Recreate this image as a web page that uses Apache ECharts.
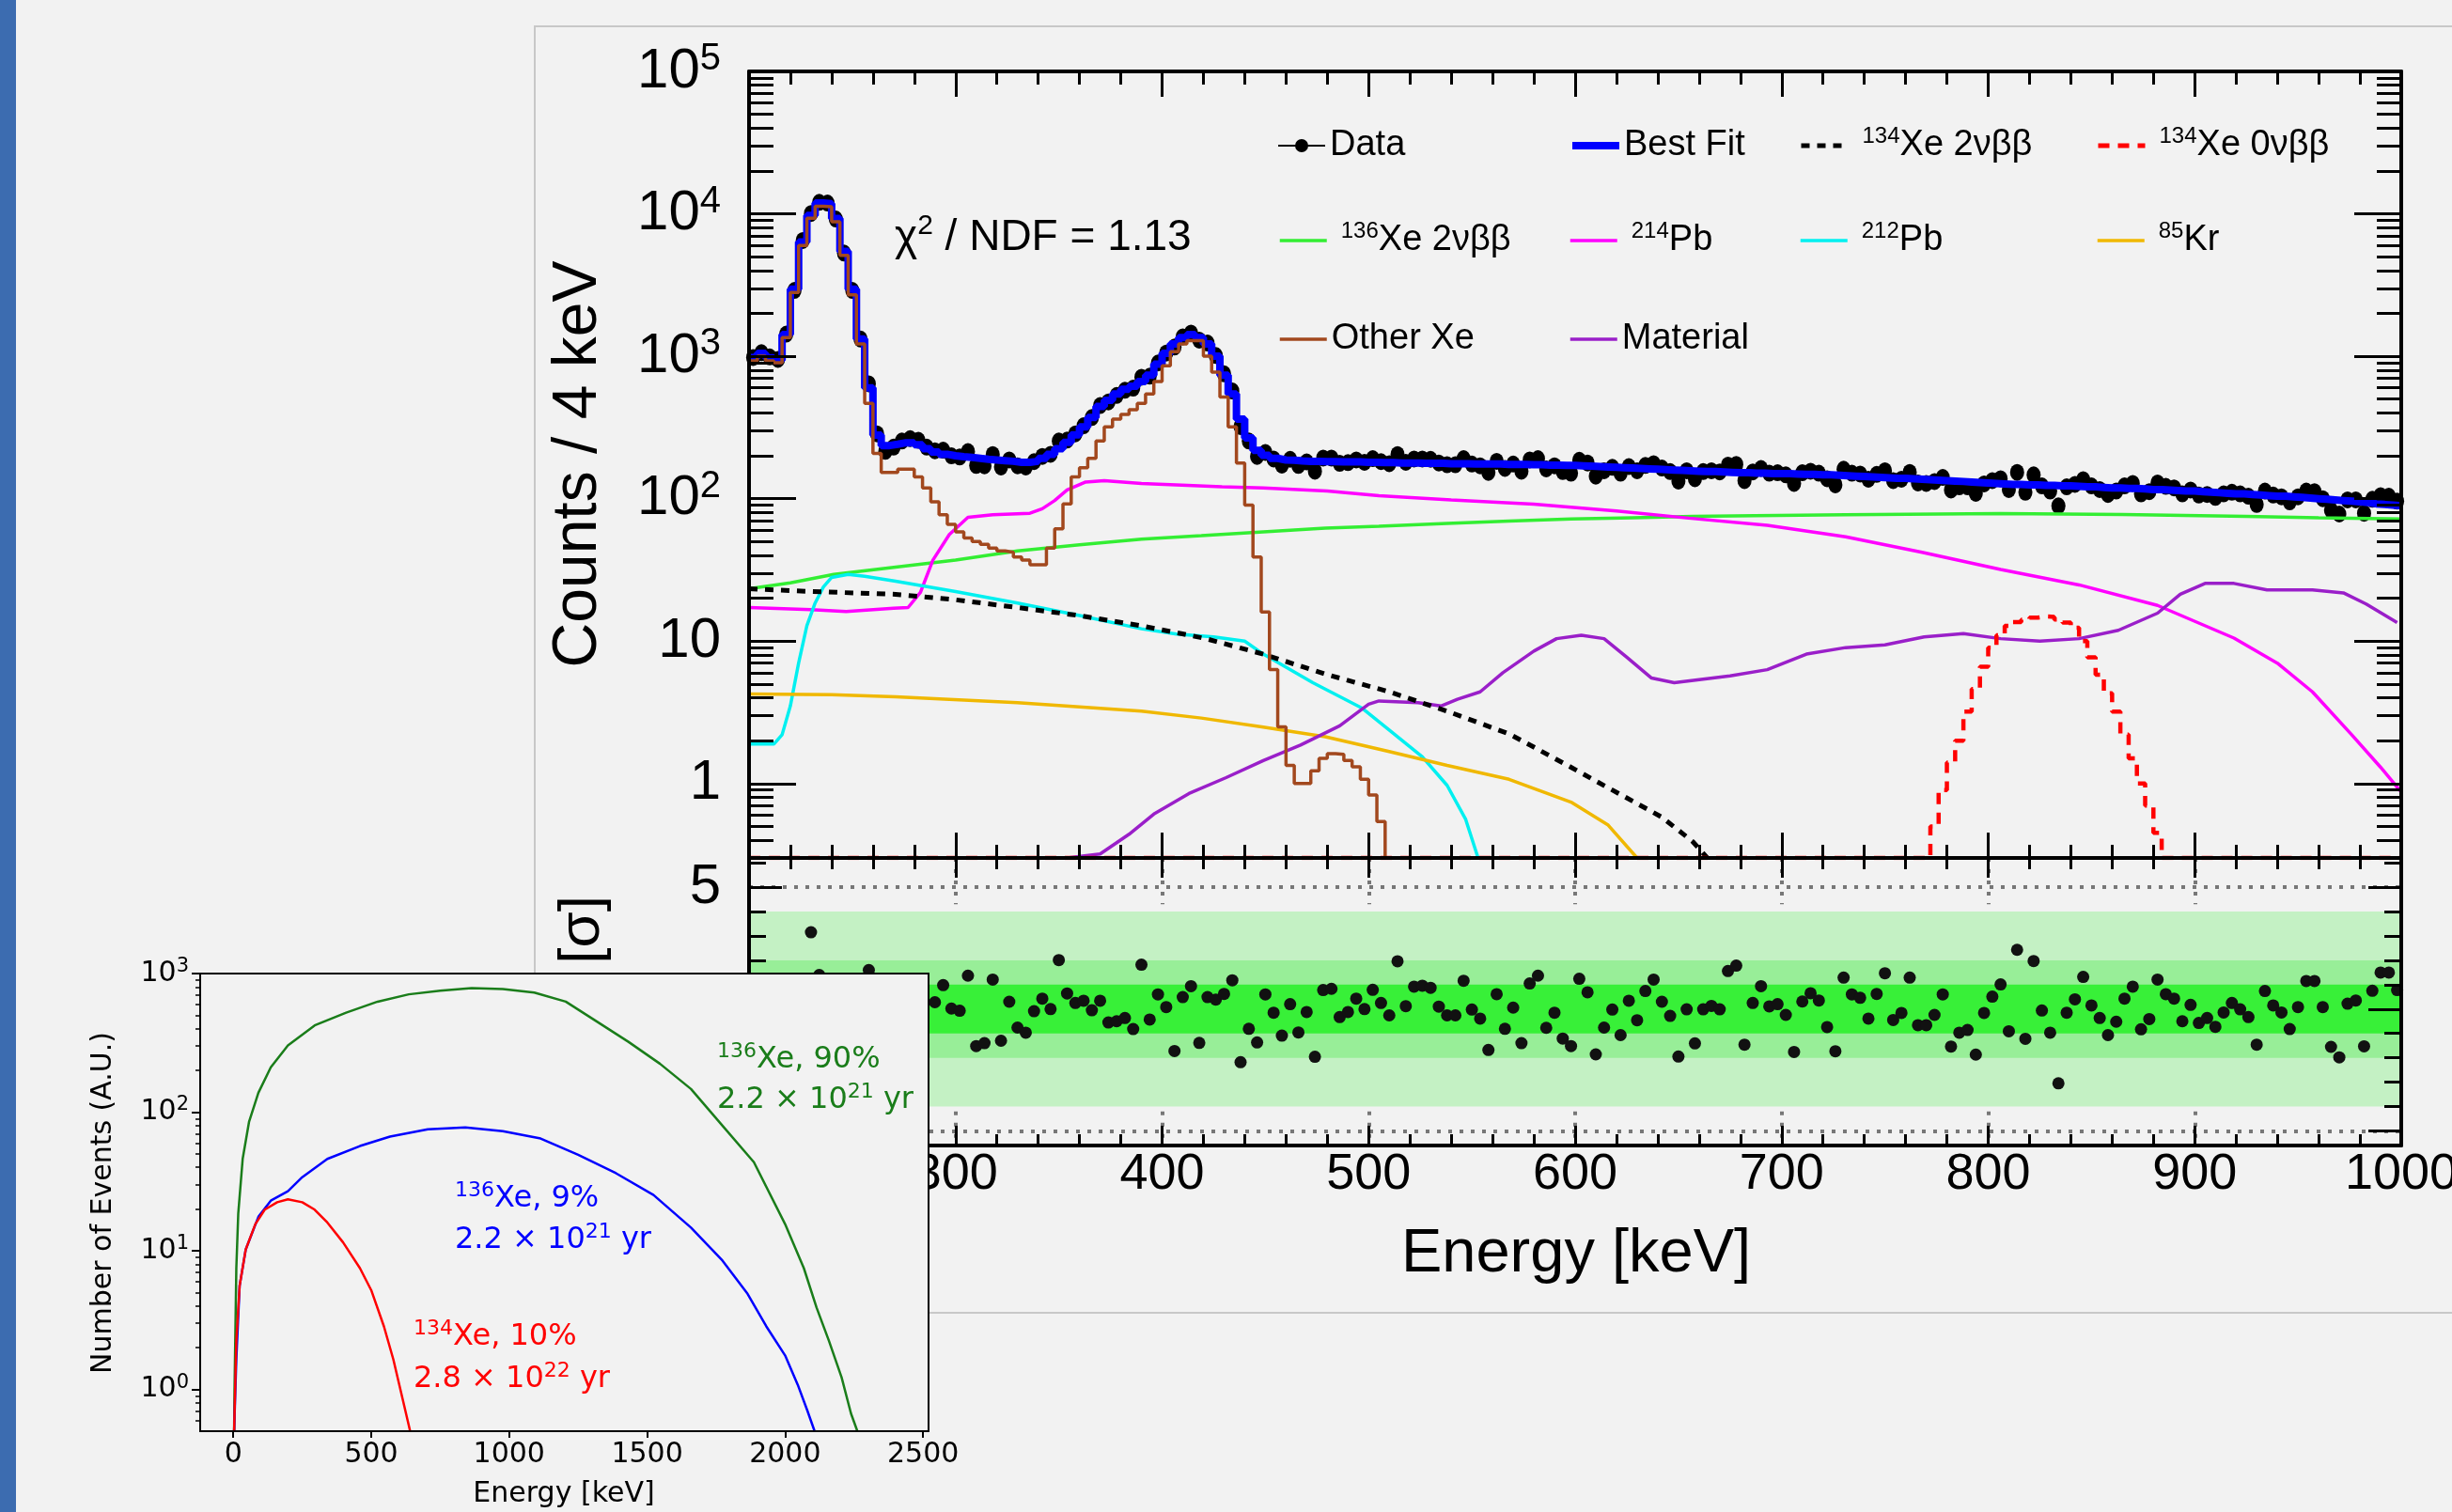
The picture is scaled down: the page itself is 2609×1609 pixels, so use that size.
<!DOCTYPE html>
<html>
<head>
<meta charset="utf-8">
<script src="https://cdn.jsdelivr.net/npm/echarts@6/dist/echarts.min.js"></script>
<style>
  html, body { margin: 0; padding: 0; background: #f2f2f2; }
  #main { width: 2609px; height: 1609px; }
</style>
</head>
<body>
<div id="main"></div>
<script>
var ROOTFONT = '"Liberation Sans", Arial, sans-serif';
var MPLFONT = '"DejaVu Sans", sans-serif';

// ---- main fit: 4 keV bins from 200 to 1000 keV (bin i starts at 200 + 4*i)
var dataCounts = [
  980,1060,990,950,1430,2900,6500,10060,12050,11900,9200,5300,2900,1320,640,285,
  215,230,254,264,257,230,
  217,219,200,196,214,171,170,204,167,187,170,167,182,198,205,254,258,285,325,371,451,478,531,577,597,712,724,897,1053,1160,1368,1455,1299,1237,1012,753,570,321,254,198,211,190,
  172,189,171,181,156,193,193,177,179,187,180,191,182,176,204,180,190,190,189,178,173,173,191,175,170,153,183,163,175,156,187,191,162,170,155,151,
  186,178,144,157,166,151,168,157,171,176,164,155,133,157,138,155,157,154,172,174,134,154,163,151,152,147,128,152,156,151,138,125,161,151,149,137,148,157,134,137,153,129,128,132,141,115,121,121,109,127,
  134,138,116,153,111,147,123,113,89,121,126,136,123,116,107,113,123,128,108,112,129,122,119,108,115,106,107,102,108,111,108,104,91,113,106,103,95,103,113,112,100,83,78,98,98,79,99,105,104,96
];
var bestFit = [
  980,1050,975,940,1420,2960,6340,9750,11900,11800,9270,5450,2960,1320,600,280,
  236,241,247,247,239,224,213,205,200,197,195,192,189,187,185,183,180,180,183,192,205,224,248,281,319,372,444,490,543,586,617,665,736,879,1050,1220,1350,1420,1350,1220,1000,736,543,362,267,218,202,192,
  187,186,184,183,183,182,182,181,181,181,180,180,179,179,178,178,178,177,177,177,176,176,176,175,175,175,175,174,174,174,173,173,172,172,171,171,
  170,169,168,167,166,165,164,163,162,161,160,159,158,157,156,155,155,154,153,152,152,151,151,150,150,150,149,148,148,147,147,146,145,144,143,142,141,140,139,139,138,137,136,135,134,133,132,131,130,129,
  128,127,126,126,125,125,124,124,123,123,122,121,121,120,119,119,118,118,117,116,116,115,114,113,113,112,111,110,109,108,108,107,106,105,104,104,103,102,101,100,99,98,97,96,95,94,92,91,90,89
];
// bins 0..77, last one empty (drawn at the frame bottom like ROOT does)
var otherXe = [
  930,1000,930,900,1350,2800,6000,9300,11300,11200,8800,5100,2700,1220,467,208,
  153,153,161,161,142,119,95,77,66,58.5,53,50,47.8,45,43,42,39,37,34.4,34.4,45,61.5,92,142,165,192,254,319,362,391,422,467,543,665,857,1076,1222,1285,1285,1000,775,517,319,178,90,39,16,6.3,2.5,1.34,1.0,1.0,1.23,1.5,1.62,1.6,1.45,1.31,1.07,0.83,0.54,0.3
];
// 134Xe 0vbb, bins 143..171
var xe134Zero = [0.5,0.9,1.4,2.0,3.2,4.6,6.6,9.0,11,12.8,13.6,14.1,14.6,14.9,14.8,14.2,13.5,12.4,10,7.7,5.8,4.3,3.2,2.2,1.5,1.0,0.7,0.45,0.3];
// pulls, one per bin; null where the inset hides the point
var residuals = [
  null,null,null,null,null,null,null,3.15,1.4,null,null,null,null,null,1.6,null,null,null,null,null,null,null,
  0.28,0.98,0.02,-0.07,1.37,-1.52,-1.4,1.21,-1.3,0.30,-0.76,-0.97,-0.09,0.43,0.0,2.01,0.64,0.25,0.34,-0.05,0.34,-0.55,-0.5,-0.37,-0.82,1.82,-0.43,0.6,
  0.08,-1.72,0.49,0.94,-1.39,0.49,0.39,0.62,1.18,-2.18,-0.81,-1.37,0.6,-0.15,-1.09,0.2,-0.96,-0.12,-1.96,0.78,0.83,-0.33,-0.12,0.43,0.0,0.79,0.25,-0.26,1.96,0.12,0.92,0.96,0.87,0.1,-0.26,-0.26,1.16,-0.02,-0.39,-1.68,0.61,-0.81,0.06,-1.4,1.05,1.37,-0.77,-0.15,-1.21,-1.52,
  1.24,0.69,-1.86,-0.76,-0.02,-1.07,0.34,-0.46,0.74,1.21,0.3,-0.28,-1.95,-0.01,-1.41,-0.01,0.13,-0.01,1.56,1.78,-1.46,0.25,0.94,0.11,0.2,-0.24,-1.76,0.31,0.65,0.35,-0.74,-1.73,1.29,0.6,0.46,-0.39,0.62,1.47,-0.45,-0.16,1.29,-0.66,-0.66,-0.24,0.6,-1.54,-0.97,-0.86,-1.87,-0.16,
  0.51,1.01,-0.91,2.43,-1.22,1.97,-0.06,-0.97,-3.05,-0.15,0.4,1.32,0.15,-0.37,-1.07,-0.52,0.43,0.92,-0.83,-0.41,1.21,0.61,0.43,-0.5,0.17,-0.57,-0.37,-0.73,-0.14,0.25,-0.01,-0.33,-1.46,0.74,0.15,-0.14,-0.82,0.08,1.15,1.15,0.08,-1.55,-1.98,0.22,0.35,-1.53,0.75,1.5,1.5,0.78
];

// smooth components, [keV, counts]
var xe136TwoNu = [[200,23.3],[220,25.6],[241,29.4],[271,33.1],[300,37],[330,43],[360,47.4],[390,52],[419,55],[449,58.5],[479,62],[505,64],[538,67],[568,69.5],[598,72],[628,73.5],[657,75],[687,76],[731,77],[806,78.5],[865,77.5],[925,75],[960,73.5],[1000,72]];
var xe134TwoNu = [[200,23.3],[230,22.3],[271,21.3],[300,19.5],[330,17.2],[360,15.1],[390,12.8],[420,10.5],[449,8.1],[479,5.86],[509,4.45],[538,3.22],[568,2.23],[580,1.8],[598,1.3],[615,0.95],[628,0.75],[642,0.58],[657,0.39],[664,0.3]];
var pb214 = [[200,17.2],[230,16.6],[247,16.1],[270,17],[277,17.2],[283,22],[289,37],[297,56],[306,74],[318,77],[336,79],[342,85],[348,97],[354,115],[363,131],[372,134],[390,128],[429,121],[449,119],[480,113],[505,105],[540,98],[580,91.5],[620,82],[655,73],[693,65],[731,54],[768,42],[806,31.8],[844,24.8],[882,17.8],[919,10.5],[940,7],[957,4.4],[976,2.2],[990,1.3],[1000,0.87]];
var pb212 = [[200,1.89],[212,1.89],[216,2.2],[220,3.5],[224,7],[228,12.8],[232,18.5],[236,24],[240,28],[248,29.4],[256,28.5],[271,26.3],[300,22.3],[330,18.5],[360,15.1],[390,12.2],[407,11.2],[425,10.7],[440,10],[449,8.1],[473,5.1],[497,3.37],[509,2.44],[526,1.54],[538,0.97],[547,0.56],[553,0.3]];
var kr85 = [[200,4.25],[240,4.2],[271,4.06],[330,3.7],[390,3.22],[419,2.88],[449,2.49],[479,2.13],[509,1.69],[538,1.34],[568,1.07],[598,0.74],[616,0.51],[630,0.3]];
var material = [[354,0.3],[370,0.32],[384,0.44],[396,0.61],[413,0.85],[431,1.1],[449,1.45],[467,1.86],[486,2.54],[500,3.6],[505,3.8],[524,3.7],[535,3.5],[543,3.9],[554,4.4],[565,6.0],[580,8.5],[591,10.4],[603,11.0],[614,10.4],[625,7.7],[637,5.5],[648,5.1],[675,5.7],[693,6.3],[712,8.1],[731,9.0],[750,9.4],[769,10.7],[788,11.3],[806,10.4],[825,10.0],[844,10.4],[863,11.9],[882,15.7],[893,21.3],[905,25.4],[919,25.4],[935,22.9],[957,22.9],[972,21.8],[983,18.2],[998,13.5]];

// inset: simulated spectra, [keV, events]
var insetXe136Main = [[3,0.5],[4.5,1.0],[11,7.5],[18,18.6],[34,46],[57,85],[91,138],[136,211],[198,303],[295,423],[409,522],[523,627],[636,708],[750,752],[864,785],[977,774],[1091,729],[1205,627],[1318,450],[1432,322],[1546,224],[1659,147],[1773,80],[1887,43.6],[2000,15.6],[2068,7.5],[2114,3.9],[2159,2.24],[2205,1.22],[2239,0.67],[2262,0.5]];
var insetXe136Minor = [[3,0.5],[11,1.65],[23,5.6],[45,10.2],[91,17.6],[136,23],[198,26.9],[250,34],[341,46],[459,57],[568,66.7],[705,75.2],[841,77.5],[977,73],[1114,64.6],[1250,49.2],[1387,36.3],[1523,25.3],[1659,14.7],[1773,8.5],[1864,4.9],[1932,2.85],[2000,1.76],[2046,1.08],[2080,0.71],[2107,0.5]];
var insetXe134 = [[3,0.5],[11,2.24],[23,5.6],[45,10.2],[80,15.6],[114,19.8],[159,22.4],[198,23.5],[250,22.4],[295,19.8],[341,16],[398,11.5],[459,7.5],[500,5.2],[546,2.85],[580,1.65],[614,0.85],[641,0.5]];

// ticks
var energyMajor = [200,300,400,500,600,700,800,900,1000];
var energyLabels = [300,400,500,600,700,800,900,1000];
var energyMinor = [];
for (var e = 220; e < 1000; e += 20) if (e % 100) energyMinor.push(e);
var countMajor = [1,10,100,1000,10000,100000];
var countMinor = [0.4,0.5,0.6,0.7,0.8,0.9];
[1,10,100,1000,10000].forEach(function (d) { for (var k = 2; k <= 9; k++) countMinor.push(k * d); });
var pullMajor = [-5,0,5];
var pullMinor = [-5,-4,-3,-2,-1,0,1,2,3,4,5,6];
var insetEnergyTicks = [0,500,1000,1500,2000,2500];
var insetMajor = [1,10,100,1000];
var insetMinor = [0.6,0.7,0.8,0.9];
[1,10,100].forEach(function (d) { for (var k = 2; k <= 9; k++) insetMinor.push(k * d); });

function hist(vals, firstBin) {
  var out = [];
  for (var i = 0; i < vals.length; i++) out.push([200 + 4 * (firstBin + i), vals[i]]);
  out.push([200 + 4 * (firstBin + vals.length), vals[vals.length - 1]]);
  return out;
}
function points(vals) {
  var out = [];
  for (var i = 0; i < vals.length; i++) if (vals[i] !== null) out.push([202 + 4 * i, vals[i]]);
  return out;
}
function powLabel(v) {
  var n = Math.round(Math.log(v) / Math.LN10);
  if (n === 0) return '{b|1}';
  if (n === 1) return '{b|10}';
  return '{b|10}{s|' + n + '}';
}

var black = '#000';
function xAx(grid, pos, ticks, len, showLine, labels) {
  return {
    type: 'value', gridIndex: grid, position: pos, min: 200, max: 1000, z: 10,
    axisLine: { show: showLine, onZero: false, lineStyle: { color: black, width: 4 } },
    axisTick: { show: true, inside: true, length: len, customValues: ticks, lineStyle: { color: black, width: 3 } },
    axisLabel: labels ? {
      show: true, customValues: labels, margin: 4, color: black, fontFamily: ROOTFONT, fontSize: 54,
      formatter: function (v) { return String(v); }
    } : { show: false },
    splitLine: { show: false }
  };
}
function yAx(grid, pos, type, min, max, ticks, len, showLine, labels, fmt) {
  return {
    type: type, gridIndex: grid, position: pos, min: min, max: max, z: 10,
    axisLine: { show: showLine, onZero: false, lineStyle: { color: black, width: 4 } },
    axisTick: { show: true, inside: true, length: len, customValues: ticks, lineStyle: { color: black, width: 3 } },
    axisLabel: labels ? {
      show: true, customValues: labels, margin: 30, color: black, fontFamily: ROOTFONT, fontSize: 58,
      formatter: fmt,
      rich: { b: { fontSize: 60, lineHeight: 66, fontFamily: ROOTFONT, color: black },
              s: { fontSize: 40, lineHeight: 36, verticalAlign: 'top', fontFamily: ROOTFONT, color: black } }
    } : { show: false },
    splitLine: { show: false }
  };
}

var legendText = {
  'Data': '{n|Data}', 'Best Fit': '{n|Best Fit}',
  '134Xe 2νββ': '{g|}{s|134}{n|Xe 2νββ}', '134Xe 0νββ': '{g|}{s|134}{n|Xe 0νββ}',
  '136Xe 2νββ': '{g|}{s|136}{n|Xe 2νββ}', '214Pb': '{g|}{s|214}{n|Pb}',
  '212Pb': '{g|}{s|212}{n|Pb}', '85Kr': '{g|}{s|85}{n|Kr}',
  'Other Xe': '{n|Other Xe}', 'Material': '{n|Material}'
};
function legendAt(name, x, y, lineWidth, icon) {
  var item = { name: name };
  if (icon) item.icon = icon;
  return {
    data: [item], left: x - 5, top: y - 27, orient: 'horizontal', selectedMode: false,
    itemWidth: 50, itemHeight: 14, symbolKeepAspect: false,
    // line icons only: hide the marker ECharts puts in the middle
    itemStyle: icon ? {} : { opacity: 0 },
    lineStyle: { width: lineWidth },
    formatter: function (n) { return legendText[n]; },
    textStyle: {
      color: black, fontFamily: ROOTFONT, fontSize: 38, lineHeight: 44,
      rich: { n: { fontSize: 38, lineHeight: 44, fontFamily: ROOTFONT, color: black },
              s: { fontSize: 24, lineHeight: 22, verticalAlign: 'top', fontFamily: ROOTFONT, color: black },
              g: { width: 10 } }
    }
  };
}
var dataIcon = 'path://M0,6L50,6L50,8L0,8Z M32,7A7,7,0,1,1,18,7A7,7,0,1,1,32,7Z';

function line(name, data, color, width, dash, z, step) {
  var s = {
    name: name, type: 'line', xAxisIndex: 0, yAxisIndex: 0, data: data, z: z || 4,
    symbol: 'none', showSymbol: false, clip: true, animation: false,
    lineStyle: { color: color, width: width, type: dash || 'solid' }, itemStyle: { color: color }
  };
  if (step) s.step = step;
  return s;
}

// dotted guide lines of the pull panel: +-5 sigma and short stubs at each 100 keV
var pullGuides = [{ yAxis: 5 }, { yAxis: -5 }];
[300, 400, 500, 600, 700, 800, 900].forEach(function (x) {
  pullGuides.push([{ coord: [x, 6.2] }, { coord: [x, 4.3] }]);
  pullGuides.push([{ coord: [x, -4.2] }, { coord: [x, -5.6] }]);
});

var option = {
  backgroundColor: '#f2f2f2',
  animation: false,
  grid: [
    { left: 797, top: 76, width: 1758, height: 837, outerBoundsMode: 'none' },
    { left: 797, top: 913, width: 1758, height: 306, outerBoundsMode: 'none' },
    { left: 213, top: 1036, width: 775, height: 487, outerBoundsMode: 'none', show: true, borderColor: black, borderWidth: 2, backgroundColor: 'transparent', z: 70 }
  ],
  xAxis: [
    xAx(0, 'bottom', energyMajor, 27, true),
    xAx(0, 'bottom', energyMinor, 14, false),
    xAx(0, 'top', energyMajor, 27, true),
    xAx(0, 'top', energyMinor, 14, false),
    xAx(1, 'bottom', energyMajor, 21, true, energyLabels),
    xAx(1, 'bottom', energyMinor, 12, false),
    xAx(1, 'top', energyMajor, 21, true),
    xAx(1, 'top', energyMinor, 12, false),
    {
      type: 'value', gridIndex: 2, position: 'bottom', min: -120, max: 2520, z: 72,
      axisLine: { show: true, onZero: false, lineStyle: { color: black, width: 2 } },
      axisTick: { show: true, inside: false, length: 7, customValues: insetEnergyTicks, lineStyle: { color: black, width: 2 } },
      axisLabel: { show: true, customValues: insetEnergyTicks, margin: 10, color: black, fontFamily: MPLFONT, fontSize: 30,
        formatter: function (v) { return String(v); } },
      splitLine: { show: false }
    }
  ],
  yAxis: [
    yAx(0, 'left', 'log', 0.3, 100000, countMajor, 50, true, countMajor, powLabel),
    yAx(0, 'left', 'log', 0.3, 100000, countMinor, 26, false),
    yAx(0, 'right', 'log', 0.3, 100000, countMajor, 50, true),
    yAx(0, 'right', 'log', 0.3, 100000, countMinor, 26, false),
    yAx(1, 'left', 'value', -5.6, 6.2, pullMajor, 35, true, [5, 0, -5], function (v) { return '{b|' + v + '}'; }),
    yAx(1, 'left', 'value', -5.6, 6.2, pullMinor, 18, false),
    yAx(1, 'right', 'value', -5.6, 6.2, pullMajor, 35, true),
    yAx(1, 'right', 'value', -5.6, 6.2, pullMinor, 18, false),
    {
      type: 'log', gridIndex: 2, position: 'left', min: 0.5, max: 1000, z: 72,
      axisLine: { show: true, onZero: false, lineStyle: { color: black, width: 2 } },
      axisTick: { show: true, inside: false, length: 9, customValues: insetMajor, lineStyle: { color: black, width: 2 } },
      axisLabel: {
        show: true, customValues: insetMajor, margin: 12, fontFamily: MPLFONT,
        formatter: function (v) { return '{b|10}{s|' + Math.round(Math.log(v) / Math.LN10) + '}'; },
        rich: { b: { fontSize: 30, lineHeight: 36, fontFamily: MPLFONT, color: black },
                s: { fontSize: 21, lineHeight: 20, verticalAlign: 'top', fontFamily: MPLFONT, color: black } }
      },
      splitLine: { show: false }
    },
    {
      type: 'log', gridIndex: 2, position: 'left', min: 0.5, max: 1000, z: 72,
      axisLine: { show: false, onZero: false },
      axisTick: { show: true, inside: false, length: 5, customValues: insetMinor, lineStyle: { color: black, width: 1.5 } },
      axisLabel: { show: false }, splitLine: { show: false }
    }
  ],
  legend: [
    legendAt('Data', 1360, 155, 2, dataIcon),
    legendAt('Best Fit', 1669, 155, 8),
    legendAt('134Xe 2νββ', 1914, 155, 5),
    legendAt('134Xe 0νββ', 2230, 155, 5),
    legendAt('136Xe 2νββ', 1360, 256, 3.5),
    legendAt('214Pb', 1669, 256, 3.5),
    legendAt('212Pb', 1914, 256, 3.5),
    legendAt('85Kr', 2230, 256, 3.5),
    legendAt('Other Xe', 1360, 361, 3.5),
    legendAt('Material', 1669, 361, 3.5)
  ],
  graphic: { elements: [
    { type: 'rect', z: 0, shape: { x: 569, y: 28, width: 2100, height: 1369 }, style: { fill: 'none', stroke: '#c8c8c8', lineWidth: 2 } },
    { type: 'text', z: 5, x: 952, y: 253, style: {
      text: '{c|χ}{s|2}{c| / NDF = 1.13}', textVerticalAlign: 'middle', fill: black,
      rich: { c: { fontSize: 46, lineHeight: 54, fontFamily: ROOTFONT, fill: black },
              s: { fontSize: 30, lineHeight: 30, verticalAlign: 'top', fontFamily: ROOTFONT, fill: black } } } },
    { type: 'text', z: 5, x: 616, y: 494, rotation: Math.PI / 2, style: {
      text: 'Counts / 4 keV', fontSize: 66, fontFamily: ROOTFONT, fill: black, textAlign: 'center', textVerticalAlign: 'middle' } },
    { type: 'text', z: 5, x: 620, y: 953, rotation: Math.PI / 2, style: {
      text: 'Residual [σ]', fontSize: 62, fontFamily: ROOTFONT, fill: black, textAlign: 'right', textVerticalAlign: 'middle' } },
    { type: 'text', z: 5, x: 1677, y: 1335, style: {
      text: 'Energy [keV]', fontSize: 65, fontFamily: ROOTFONT, fill: black, textAlign: 'center', textVerticalAlign: 'middle' } },
    // inset figure sits on top of the lower-left corner
    { type: 'rect', z: 50, shape: { x: 17, y: 1037, width: 971, height: 572 }, style: { fill: '#f2f2f2' } },
    { type: 'rect', z: 100, shape: { x: 0, y: 0, width: 17, height: 1609 }, style: { fill: '#3c6cb0' } },
    { type: 'text', z: 75, x: 110, y: 1280, rotation: Math.PI / 2, style: {
      text: 'Number of Events (A.U.)', fontSize: 30, fontFamily: MPLFONT, fill: black, textAlign: 'center', textVerticalAlign: 'middle' } },
    { type: 'text', z: 75, x: 600, y: 1590, style: {
      text: 'Energy [keV]', fontSize: 30, fontFamily: MPLFONT, fill: black, textAlign: 'center', textVerticalAlign: 'middle' } },
    insetNote(763, 1128, '{s|136}{t|Xe, 90%}', '#1a7d1a'),
    insetNote(763, 1171, '{t|2.2 × 10}{s|21}{t| yr}', '#1a7d1a'),
    insetNote(484, 1276, '{s|136}{t|Xe, 9%}', '#0000ff'),
    insetNote(484, 1320, '{t|2.2 × 10}{s|21}{t| yr}', '#0000ff'),
    insetNote(440, 1423, '{s|134}{t|Xe, 10%}', '#ff0000'),
    insetNote(440, 1468, '{t|2.8 × 10}{s|22}{t| yr}', '#ff0000')
  ] },
  series: [
    {
      name: 'Data', type: 'scatter', xAxisIndex: 0, yAxisIndex: 0, data: points(dataCounts), z: 2,
      symbol: 'circle', symbolSize: [15, 18], itemStyle: { color: black, opacity: 1 }, animation: false
    },
    line('Best Fit', hist(bestFit, 0), '#0000ff', 8, 'solid', 3, 'end'),
    line('136Xe 2νββ', xe136TwoNu, '#33ee33', 3.5),
    line('214Pb', pb214, '#ff00ff', 3.5),
    line('212Pb', pb212, '#00f0f0', 3.5),
    line('85Kr', kr85, '#f0b800', 3.5),
    line('Material', material, '#9a1fc9', 3.5),
    line('134Xe 2νββ', xe134TwoNu, black, 5, [9, 8], 5),
    line('134Xe 0νββ', [[200, 0.3]].concat(hist(xe134Zero, 143)).concat([[1000, 0.3]]), '#ff0000', 4.5, [12, 9], 5, 'end'),
    line('Other Xe', hist(otherXe, 0), '#a2481e', 3.5, 'solid', 6, 'end'),
    {
      type: 'line', xAxisIndex: 4, yAxisIndex: 4, data: [[200, 0]], z: 1, symbol: 'none',
      lineStyle: { opacity: 0 }, silent: true, animation: false,
      markArea: { silent: true, data: [
        [{ yAxis: -4, itemStyle: { color: '#c4f1c4' } }, { yAxis: 4 }],
        [{ yAxis: -2, itemStyle: { color: '#98ee98' } }, { yAxis: 2 }],
        [{ yAxis: -1, itemStyle: { color: '#38f038' } }, { yAxis: 1 }]
      ] },
      markLine: { silent: true, symbol: 'none', label: { show: false },
        lineStyle: { color: '#777', type: [4, 8], width: 4 },
        data: pullGuides }
    },
    {
      type: 'scatter', xAxisIndex: 4, yAxisIndex: 4, data: points(residuals), z: 3,
      symbol: 'circle', symbolSize: 13, itemStyle: { color: '#111', opacity: 1 }, animation: false
    },
    insetLine(insetXe136Main, '#1a7d1a', {
      silent: true, symbol: 'none', label: { show: false },
      data: [
        { xAxis: 200, lineStyle: { color: '#ffa500', type: [10, 5], width: 3 } },
        { xAxis: 460, lineStyle: { color: '#1f77b4', type: [10, 5], width: 3 } }
      ]
    }),
    insetLine(insetXe136Minor, '#0000ff'),
    insetLine(insetXe134, '#ff0000')
  ]
};

function insetNote(x, y, text, color) {
  return { type: 'text', z: 75, x: x, y: y, style: {
    text: text, textVerticalAlign: 'middle', fill: color,
    rich: { t: { fontSize: 32, lineHeight: 40, fontFamily: MPLFONT, fill: color },
            s: { fontSize: 22, lineHeight: 22, verticalAlign: 'top', fontFamily: MPLFONT, fill: color } } } };
}
function insetLine(data, color, mark) {
  var s = {
    type: 'line', xAxisIndex: 8, yAxisIndex: 8, data: data, z: 60, symbol: 'none', clip: true,
    lineStyle: { color: color, width: 2.5 }, animation: false
  };
  if (mark) s.markLine = mark;
  return s;
}

var chart = echarts.init(document.getElementById('main'));
chart.setOption(option);
</script>
</body>
</html>
